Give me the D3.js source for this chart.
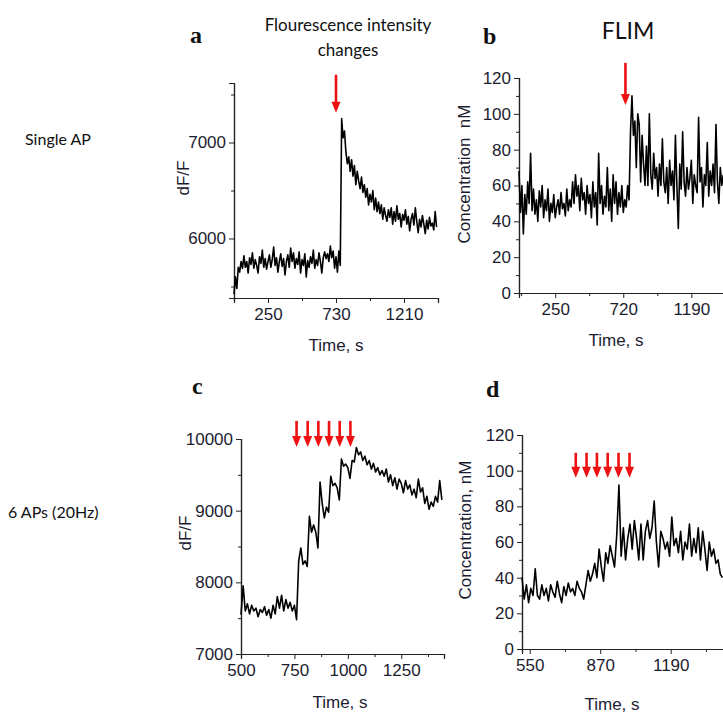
<!DOCTYPE html>
<html>
<head>
<meta charset="utf-8">
<script src="https://cdn.jsdelivr.net/npm/d3@7"></script>
<style>
  body { margin: 0; background: #fff; }
  svg { display: block; }
  .tick text { font-family: "Liberation Sans", Arial, sans-serif; font-size: 17px; fill: #1c1c30; }
  .lbl { font-family: "Liberation Sans", Arial, sans-serif; font-size: 17px; fill: #1c1c30; white-space: pre; }
  .cal { font-family: Lato, "Open Sans", sans-serif; fill: #111; }
  .letter { font-family: "Liberation Serif", "DejaVu Serif", serif; font-weight: bold; font-size: 24px; fill: #111; }
</style>
</head>
<body>
<svg id="chart" width="723" height="713"></svg>
<script>
/* global d3 */

// a: fluorescence, single AP (t = 10 .. 1440, step 10 s)
var aStart = 10, aStep = 10;
var aValues = [5420, 5600, 5480, 5700, 5650, 5760, 5690, 5820, 5700, 5760,
  5640, 5800, 5730, 5850, 5690, 5780, 5720, 5640, 5810, 5740,
  5880, 5700, 5790, 5680, 5760, 5830, 5700, 5780, 5910, 5720,
  5800, 5650, 5760, 5840, 5710, 5790, 5620, 5760, 5830, 5700,
  5900, 5760, 5850, 5690, 5790, 5730, 5860, 5640, 5780, 5720,
  5840, 5600, 5770, 5700, 5810, 5740, 5880, 5690, 5780, 5720,
  5850, 5760, 5640, 5800, 5860, 5790, 5840, 5760, 5920, 5800,
  5870, 5690, 5810, 5650, 5870, 5720, 7250, 7050, 7120, 6900,
  6780, 6850, 6700, 6820, 6650, 6760, 6560, 6700, 6600, 6520,
  6640, 6480, 6560, 6430, 6520, 6350, 6460, 6380, 6500, 6300,
  6420, 6280, 6380, 6260, 6350, 6200, 6320, 6240, 6180, 6300,
  6220, 6320, 6150, 6280, 6180, 6340, 6200, 6260, 6120, 6250,
  6190, 6300, 6150, 6230, 6080, 6200, 6260, 6140, 6320, 6180,
  6060, 6200, 6120, 6240, 6150, 6050, 6190, 6100, 6220, 6130,
  6160, 6090, 6280, 6120];

// b: FLIM concentration, single AP (t = 0 .. 1410, step 10 s)
var bStart = 0, bStep = 10;
var bValues = [68, 45, 60, 33, 55, 44, 62, 50, 78, 46,
  58, 44, 52, 40, 57, 48, 60, 42, 52, 46,
  58, 40, 50, 45, 55, 42, 48, 52, 44, 56,
  47, 50, 43, 58, 46, 52, 48, 62, 50, 66,
  54, 60, 46, 64, 52, 56, 44, 60, 50, 55,
  42, 62, 48, 56, 38, 78, 50, 60, 44, 54,
  48, 70, 46, 58, 40, 66, 50, 62, 44, 56,
  48, 60, 45, 52, 48, 60, 52, 90, 110, 88,
  96, 70, 100, 94, 62, 88, 72, 60, 82, 60,
  100, 66, 58, 78, 64, 70, 54, 72, 60, 86,
  62, 56, 70, 50, 74, 60, 68, 52, 88, 60,
  36, 72, 58, 90, 62, 54, 70, 58, 64, 74,
  50, 66, 60, 56, 98, 62, 70, 48, 66, 60,
  84, 54, 68, 60, 72, 56, 94, 62, 50, 70,
  60, 66];

// c: fluorescence, 6 APs (t = 500 .. 1440, step 10 s)
var cStart = 500, cStep = 10;
var cValues = [7550, 7950, 7600, 7700, 7560, 7680, 7600, 7640, 7520, 7620,
  7580, 7660, 7540, 7620, 7500, 7680, 7560, 7800, 7640, 7820,
  7600, 7760, 7640, 7720, 7600, 7680, 7480, 8300, 8480, 8250,
  8300, 8220, 8920, 8700, 8800, 8700, 8480, 9400, 9100, 8900,
  9050, 8980, 9480, 9350, 9380, 9320, 9150, 9720, 9620, 9650,
  9600, 9450, 9700, 9680, 9880, 9780, 9820, 9700, 9760, 9640,
  9700, 9580, 9660, 9540, 9600, 9500, 9560, 9480, 9580, 9400,
  9500, 9350, 9460, 9300, 9440, 9380, 9250, 9420, 9300, 9360,
  9220, 9300, 9180, 9440, 9260, 9320, 9100, 9200, 9020, 9120,
  9060, 9200, 9120, 9420, 9150];

// d: FLIM concentration, 6 APs (t = 515 .. 1425, step 10 s)
var dStart = 515, dStep = 10;
var dValues = [40, 28, 36, 26, 34, 30, 45, 30, 28, 36,
  30, 34, 27, 36, 32, 29, 38, 31, 26, 35,
  30, 37, 32, 34, 30, 38, 34, 32, 28, 36,
  44, 38, 42, 48, 40, 56, 46, 38, 54, 48,
  58, 52, 46, 64, 92, 52, 68, 50, 62, 70,
  56, 72, 62, 50, 70, 50, 66, 72, 62, 68,
  83, 60, 46, 66, 62, 56, 60, 52, 74, 58,
  62, 54, 66, 50, 60, 56, 70, 52, 62, 54,
  68, 50, 66, 56, 44, 60, 52, 56, 48, 50,
  42, 40];

// stimulus arrows: time and value at the arrow tip
var aArrows = [730], aArrowTip = 7310;
var bArrows = [735], bArrowTip = 105;
var cArrows = [760, 812, 862, 912, 962, 1012], cArrowTip = 9890;
var dArrows = [759, 808, 855, 904, 953, 1003], dArrowTip = 96;

var svg = d3.select('#chart');

function series(start, step, values) {
  return values.map((v, i) => ({ t: start + i * step, v: v }));
}

function drawPanel(p) {
  var x = d3.scaleLinear().domain(p.xDomain).range(p.xRange);
  var y = d3.scaleLinear().domain(p.yDomain).range(p.yRange);
  var g = svg.append('g');

  // minor ticks first, then the major ones with labels
  g.append('g')
    .attr('transform', `translate(0,${p.yRange[0]})`)
    .call(d3.axisBottom(x).tickValues(p.xMinor).tickSize(3).tickFormat(''));
  g.append('g')
    .attr('transform', `translate(0,${p.yRange[0]})`)
    .call(d3.axisBottom(x).tickValues(p.xMajor).tickSize(5).tickPadding(5).tickFormat(d3.format('d')));
  g.append('g')
    .attr('transform', `translate(${p.xRange[0]},0)`)
    .call(d3.axisLeft(y).tickValues(p.yMinor).tickSize(3).tickFormat(''));
  g.append('g')
    .attr('transform', `translate(${p.xRange[0]},0)`)
    .call(d3.axisLeft(y).tickValues(p.yMajor).tickSize(5).tickPadding(3).tickFormat(d3.format('d')));

  g.selectAll('.domain').attr('stroke', '#222').attr('stroke-width', 1.2);
  g.selectAll('.tick line').attr('stroke', '#222');

  g.append('path')
    .datum(p.data)
    .attr('fill', 'none')
    .attr('stroke', '#000')
    .attr('stroke-width', 1.6)
    .attr('stroke-linejoin', 'round')
    .attr('d', d3.line().x(d => x(d.t)).y(d => y(d.v)));

  var arrows = g.selectAll('g.arrow')
    .data(p.arrows).enter()
    .append('g').attr('class', 'arrow')
    .attr('transform', d => `translate(${x(d)},${y(p.arrowTip)})`);
  arrows.append('line')
    .attr('x1', 0).attr('x2', 0)
    .attr('y1', -p.arrowLen).attr('y2', -8)
    .attr('stroke', '#ee1111').attr('stroke-width', 2.6);
  arrows.append('path')
    .attr('d', 'M-4.5,-11 L4.5,-11 L0,0 Z')
    .attr('fill', '#ee1111');

  g.append('text').attr('class', 'lbl')
    .attr('x', p.xLabel[0]).attr('y', p.xLabel[1])
    .attr('text-anchor', 'middle')
    .text('Time, s');
  g.append('text').attr('class', 'lbl')
    .attr('transform', `translate(${p.yLabel[0]},${p.yLabel[1]}) rotate(-90)`)
    .attr('text-anchor', 'middle')
    .text(p.yText);
  g.append('text').attr('class', 'letter')
    .attr('x', p.letter[0]).attr('y', p.letter[1])
    .text(p.letterText);
}

drawPanel({
  data: series(aStart, aStep, aValues),
  xDomain: [10, 1450], xRange: [234, 438],
  yDomain: [5380, 7620], yRange: [298, 83],
  xMajor: [250, 730, 1210], xMinor: [10, 490, 970, 1450],
  yMajor: [6000, 7000], yMinor: [5500, 6500, 7500],
  arrows: aArrows, arrowTip: aArrowTip, arrowLen: 38,
  xLabel: [336, 351], yLabel: [189, 178], yText: 'dF/F',
  letter: [190, 43], letterText: 'a'
});

drawPanel({
  data: series(bStart, bStep, bValues),
  xDomain: [0, 1450], xRange: [519, 729],
  yDomain: [0, 120], yRange: [293, 78],
  xMajor: [250, 720, 1190], xMinor: [15, 485, 955, 1425],
  yMajor: d3.range(0, 121, 20), yMinor: d3.range(10, 120, 20),
  arrows: bArrows, arrowTip: bArrowTip, arrowLen: 42,
  xLabel: [616, 346], yLabel: [470, 174], yText: 'Concentration\u00a0 nM',
  letter: [483, 44], letterText: 'b'
});

drawPanel({
  data: series(cStart, cStep, cValues),
  xDomain: [500, 1450], xRange: [241, 444],
  yDomain: [7000, 10000], yRange: [654, 439],
  xMajor: [500, 750, 1000, 1250], xMinor: [625, 875, 1125, 1375],
  yMajor: [7000, 8000, 9000, 10000], yMinor: [7500, 8500, 9500],
  arrows: cArrows, arrowTip: cArrowTip, arrowLen: 26,
  xLabel: [340, 708], yLabel: [191, 533], yText: 'dF/F',
  letter: [192, 394], letterText: 'c'
});

drawPanel({
  data: series(dStart, dStep, dValues),
  xDomain: [515, 1450], xRange: [522, 728],
  yDomain: [0, 120], yRange: [649, 435],
  xMajor: [550, 870, 1190], xMinor: [710, 1030, 1350],
  yMajor: d3.range(0, 121, 20), yMinor: d3.range(10, 120, 20),
  arrows: dArrows, arrowTip: dArrowTip, arrowLen: 25,
  xLabel: [612, 710], yLabel: [471, 530], yText: 'Concentration, nM',
  letter: [486, 397], letterText: 'd'
});

// titles and row labels
svg.append('text').attr('class', 'cal')
  .attr('x', 348).attr('y', 31).attr('text-anchor', 'middle')
  .style('font-size', '17px').text('Flourescence intensity');
svg.append('text').attr('class', 'cal')
  .attr('x', 348).attr('y', 56).attr('text-anchor', 'middle')
  .style('font-size', '17px').text('changes');
svg.append('text').attr('class', 'cal')
  .attr('x', 628).attr('y', 39).attr('text-anchor', 'middle')
  .style('font-size', '23px').text('FLIM');
svg.append('text').attr('class', 'cal')
  .attr('x', 25).attr('y', 145)
  .style('font-size', '16px').text('Single AP');
svg.append('text').attr('class', 'cal')
  .attr('x', 8).attr('y', 518)
  .style('font-size', '16px').text('6 APs (20Hz)');
</script>
</body>
</html>
